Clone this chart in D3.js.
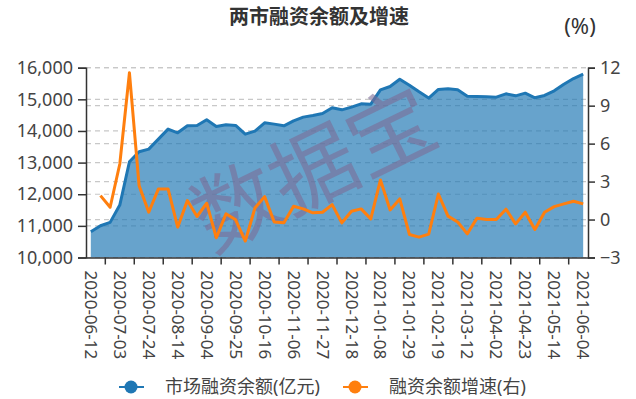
<!DOCTYPE html>
<html>
<head>
<meta charset="utf-8">
<script src="https://cdn.jsdelivr.net/npm/d3@7"></script>
<style>
    body { margin: 0; background: #fff; }
    text { font-family: "Noto Sans", "Noto Sans CJK SC", sans-serif; fill: #333; }
</style>
</head>
<body>
<div class="container"></div>
<script>
const dates = [
    "2020-06-12", "2020-06-19", "2020-06-24", "2020-07-03", "2020-07-10", "2020-07-17",
    "2020-07-24", "2020-07-31", "2020-08-07", "2020-08-14", "2020-08-21", "2020-08-28",
    "2020-09-04", "2020-09-11", "2020-09-18", "2020-09-25", "2020-09-30", "2020-10-09",
    "2020-10-16", "2020-10-23", "2020-10-30", "2020-11-06", "2020-11-13", "2020-11-20",
    "2020-11-27", "2020-12-04", "2020-12-11", "2020-12-18", "2020-12-25", "2020-12-31",
    "2021-01-08", "2021-01-15", "2021-01-22", "2021-01-29", "2021-02-05", "2021-02-10",
    "2021-02-19", "2021-02-26", "2021-03-05", "2021-03-12", "2021-03-19", "2021-03-26",
    "2021-04-02", "2021-04-09", "2021-04-16", "2021-04-23", "2021-04-30", "2021-05-07",
    "2021-05-14", "2021-05-21", "2021-05-28", "2021-06-04"
];

// 市场融资余额(亿元)
const balance = [
    10815, 11004, 11110, 11658, 13026, 13341, 13426, 13742, 14058, 13942, 14163, 14174,
    14353, 14142, 14195, 14174, 13900, 13995, 14258, 14216, 14163, 14321, 14437, 14490,
    14553, 14732, 14668, 14753, 14858, 14848, 15300, 15406, 15637, 15448, 15237, 15040,
    15311, 15333, 15300, 15100, 15090, 15080, 15069, 15174, 15111, 15195, 15048, 15122,
    15269, 15479, 15658, 15795
];

// 融资余额增速(%)
const growth = [
    null, 1.89, 0.97, 4.39, 11.6, 2.68, 0.58, 2.42, 2.42, -0.6, 1.5, 0.24,
    1.29, -1.44, 0.45, -0.02, -1.7, 0.92, 1.81, -0.2, -0.26, 1.05, 0.84, 0.53,
    0.58, 1.18, -0.26, 0.66, 0.84, 0.05, 3.13, 0.76, 1.63, -1.18, -1.39, -1.15,
    2.02, 0.27, -0.2, -1.13, 0.11, 0.0, 0.0, 0.82, -0.34, 0.58, -0.79, 0.58,
    1.02, 1.24, 1.45, 1.24
];

const leftTicks = [10000, 11000, 12000, 13000, 14000, 15000, 16000];
const rightTicks = [-3, 0, 3, 6, 9, 12];
const seriesNames = ["市场融资余额(亿元)", "融资余额增速(右)"];
const title = "两市融资余额及增速";

const width = 636, height = 399,
    margin = {top: 67.7, right: 48, bottom: 141.5, left: 86},
    blue = "#1f77b4", orange = "#ff7f0e";

const svg = d3.select('.container')
    .append('svg')
    .attr('width', width)
    .attr('height', height);

const x = d3.scaleBand()
    .domain(d3.range(dates.length))
    .range([margin.left, width - margin.right]);
const cx = i => x(i) + x.bandwidth() / 2;

const yL = d3.scaleLinear().domain([10000, 16000]).range([height - margin.bottom, margin.top]);
const yR = d3.scaleLinear().domain([-3, 12]).range([height - margin.bottom, margin.top]);

// grid lines
const grid = svg.append('g')
    .attr('stroke', '#c8c8c8')
    .attr('stroke-width', 1.2)
    .attr('stroke-dasharray', '5,4');
grid.selectAll('.gl').data(leftTicks).enter().append('line')
    .attr('x1', margin.left).attr('x2', width - margin.right)
    .attr('y1', d => yL(d)).attr('y2', d => yL(d));
grid.selectAll('.gr').data(rightTicks).enter().append('line')
    .attr('x1', margin.left).attr('x2', width - margin.right)
    .attr('y1', d => yR(d)).attr('y2', d => yR(d));

// area + line
const area = d3.area()
    .x((d, i) => cx(i))
    .y0(yL(10000))
    .y1(d => yL(d));
svg.append('path')
    .datum(balance)
    .attr('d', area)
    .attr('fill', blue)
    .attr('fill-opacity', 0.68);

svg.append('path')
    .datum(balance)
    .attr('d', d3.line().x((d, i) => cx(i)).y(d => yL(d)))
    .attr('fill', 'none')
    .attr('stroke', blue)
    .attr('stroke-width', 3)
    .attr('stroke-linejoin', 'round');

// watermark
svg.append('text')
    .attr('transform', 'translate(314,170) rotate(-26)')
    .attr('text-anchor', 'middle')
    .attr('dy', '0.35em')
    .style('font-family', '"Noto Sans CJK SC", sans-serif')
    .style('font-size', '86px')
    .style('fill', '#7b6c96')
    .style('fill-opacity', 0.6)
    .text('数据宝');

svg.append('path')
    .datum(growth)
    .attr('d', d3.line().defined(d => d !== null).x((d, i) => cx(i)).y(d => yR(d)))
    .attr('fill', 'none')
    .attr('stroke', orange)
    .attr('stroke-width', 3)
    .attr('stroke-linejoin', 'round');

// axes
const axisL = svg.append('g')
    .attr('transform', `translate(${margin.left},0)`)
    .call(d3.axisLeft(yL).tickValues(leftTicks).tickFormat(d3.format(',')).tickSize(8).tickPadding(5));
const axisR = svg.append('g')
    .attr('transform', `translate(${width - margin.right},0)`)
    .call(d3.axisRight(yR).tickValues(rightTicks).tickSize(7).tickPadding(5));
[axisL, axisR].forEach(a => {
    a.select('.domain').attr('stroke', '#333').attr('stroke-width', 1.5);
    a.selectAll('.tick line').attr('stroke', '#333').attr('stroke-width', 1.5);
    a.selectAll('text').style('font-size', '18px').style('fill', '#444');
});

const axisX = svg.append('g')
    .attr('transform', `translate(0,${height - margin.bottom})`)
    .call(d3.axisBottom(x)
        .tickValues(d3.range(dates.length).filter(i => i % 3 === 0))
        .tickFormat(i => dates[i])
        .tickSize(0));
axisX.select('.domain').attr('stroke', '#333').attr('stroke-width', 1.5);
axisX.selectAll('text')
    .attr('transform', 'rotate(90)')
    .attr('x', 13)
    .attr('y', 0)
    .attr('dy', '0.35em')
    .attr('text-anchor', 'start')
    .style('font-size', '17px')
    .style('fill', '#444');
axisX.selectAll('.btick')
    .data(d3.range(dates.length).filter(i => i % 3 === 2))
    .enter().append('line')
    .attr('x1', d => x(d)).attr('x2', d => x(d))
    .attr('y1', 0).attr('y2', 7)
    .attr('stroke', '#333')
    .attr('stroke-width', 1.5);

// title
svg.append('text')
    .attr('x', 319).attr('y', 24)
    .attr('text-anchor', 'middle')
    .style('font-size', '20px')
    .style('font-weight', 'bold')
    .text(title);

svg.append('text')
    .attr('x', 580).attr('y', 34)
    .attr('text-anchor', 'middle')
    .style('font-size', '22px')
    .text('(%)');

// legend
const legend = svg.append('g');
const items = legend.selectAll('g')
    .data(seriesNames)
    .enter().append('g')
    .attr('transform', (d, i) => `translate(${i === 0 ? 131 : 355},387)`);
items.append('line')
    .attr('x1', -12).attr('x2', 13)
    .attr('stroke', (d, i) => i === 0 ? blue : orange)
    .attr('stroke-width', 2);
items.append('circle')
    .attr('r', 6.5)
    .attr('fill', (d, i) => i === 0 ? blue : orange);
items.append('text')
    .attr('x', 34).attr('dy', '0.36em')
    .style('font-size', '18px')
    .style('fill', '#444')
    .text(d => d);
</script>
</body>
</html>
